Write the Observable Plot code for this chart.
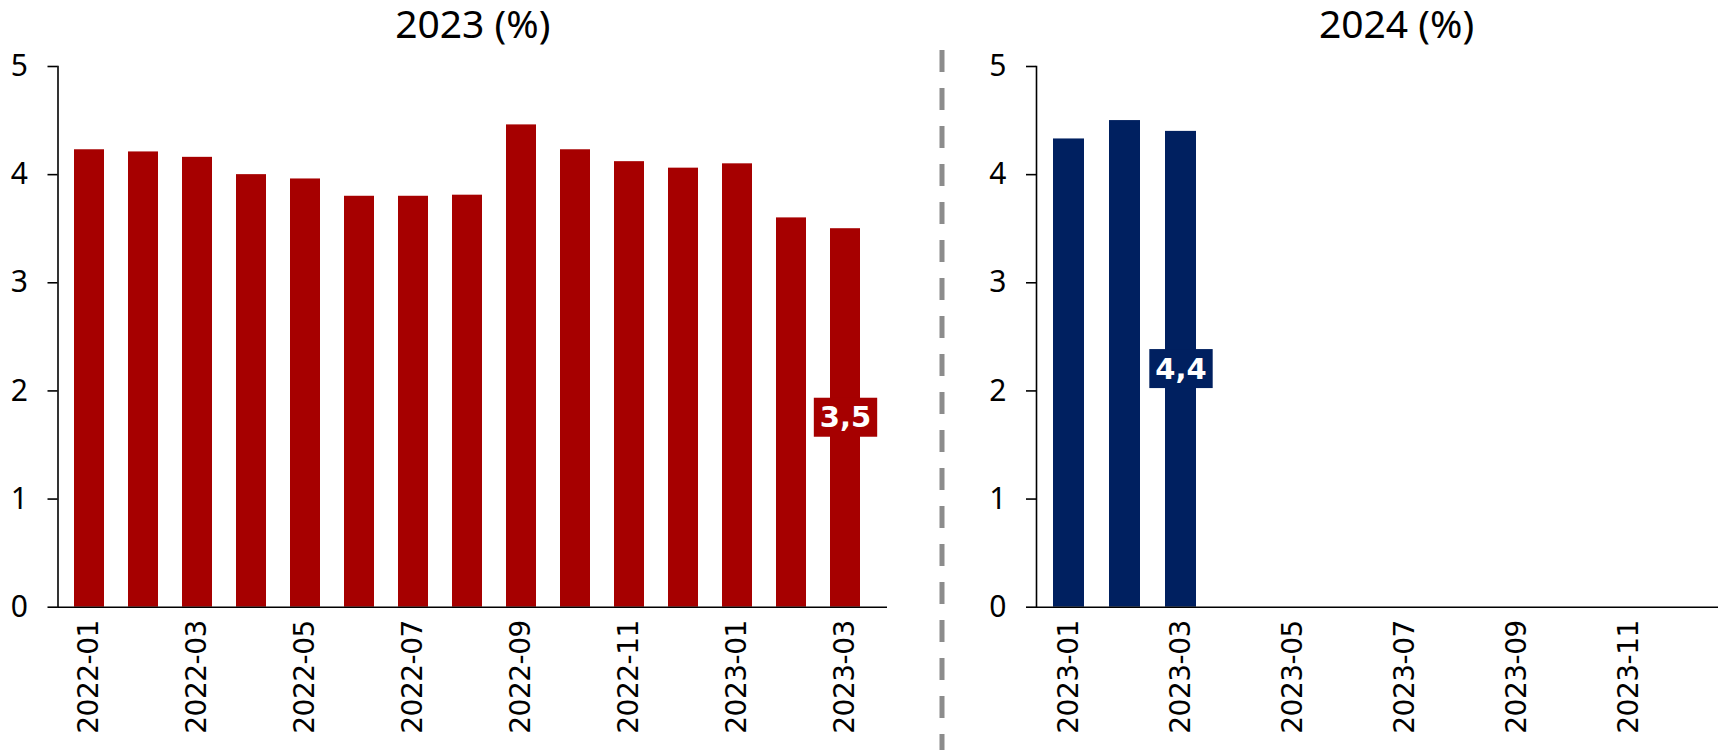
<!DOCTYPE html>
<html><head><meta charset="utf-8">
<script src="https://cdn.jsdelivr.net/npm/d3@7"></script>
<script src="https://cdn.jsdelivr.net/npm/@observablehq/plot@0.6"></script>
<style>
html,body{margin:0;padding:0;background:#fff;}
#wrap{position:relative;width:1718px;height:750px;overflow:hidden;background:#fff;}
#left{position:absolute;left:0;top:0;}
#right{position:absolute;left:900px;top:0;}
#sep{position:absolute;left:0;top:0;pointer-events:none;}
g[aria-label="x-axis tick label"] text{letter-spacing:-0.5px;}
</style></head><body>
<div id="wrap"><div id="left"></div><div id="right"></div>
<svg id="sep" width="1718" height="750"><line x1="942" x2="942" y1="50" y2="750" stroke="#8c8c8c" stroke-width="5" stroke-dasharray="22 16"/></svg>
</div>
<script>
// ---- data ----
const titles = ["2023 (%)", "2024 (%)"];
const months2023 = ["2022-01","2022-02","2022-03","2022-04","2022-05","2022-06","2022-07","2022-08","2022-09","2022-10","2022-11","2022-12","2023-01","2023-02","2023-03"];
const values2023 = [4.23,4.21,4.16,4.00,3.96,3.80,3.80,3.81,4.46,4.23,4.12,4.06,4.10,3.60,3.50];
const months2024 = ["2023-01","2023-02","2023-03","2023-04","2023-05","2023-06","2023-07","2023-08","2023-09","2023-10","2023-11","2023-12"];
const values2024 = [4.33,4.50,4.40];
const yTicks = [0,1,2,3,4,5];
const colors = ["#A60000", "#002060"];

function panel({months, values, color, title, width, marginLeft, marginRight, insetRight, titleDx}) {
  const data = values.map((v, i) => ({month: months[i], value: v}));
  const last = data[data.length - 1];
  return Plot.plot({
    width, height: 750,
    marginTop: 66, marginBottom: 143.3, marginLeft, marginRight,
    style: {background: "white", color: "black", fontFamily: "'DejaVu Sans'"},
    x: {domain: months, paddingInner: 0.442, paddingOuter: 0.221, insetRight, label: null},
    y: {domain: [0, 5], label: null},
    marks: [
      Plot.barY(data, {x: "month", y: "value", fill: color}),
      Plot.ruleY([0], {stroke: "#000", strokeWidth: 1.6}),
      Plot.frame({anchor: "left", stroke: "#000", strokeWidth: 1.6}),
      Plot.axisY({ticks: yTicks, tickFormat: d => String(d), tickSize: 10, tickPadding: 20, fontSize: 30, fontFamily: "Noto Sans", label: null, strokeWidth: 1.6}),
      Plot.axisX({ticks: months.filter((m, i) => i % 2 === 0), tickSize: 0, tickPadding: 13, tickRotate: -90, fontSize: 28, fontFamily: "DejaVu Sans", label: null}),
      Plot.text([last], {x: "month", y: d => d.value / 2, text: d => d.value.toFixed(1).replace(".", ","), fill: "white", fontWeight: "bold", fontSize: 29, fontFamily: "DejaVu Sans"}),
      Plot.text([title], {frameAnchor: "top", lineAnchor: "middle", dy: -41, dx: titleDx, fontSize: 39, fontFamily: "Noto Sans", fill: "black"})
    ]
  });
}

const left = panel({months: months2023, values: values2023, color: colors[0], title: titles[0], width: 900, marginLeft: 57.5, marginRight: 13, insetRight: 10, titleDx: 0});
const right = panel({months: months2024, values: values2024, color: colors[1], title: titles[1], width: 818, marginLeft: 136, marginRight: 0, insetRight: 0, titleDx: 19});
document.getElementById("left").appendChild(left);
document.getElementById("right").appendChild(right);

// label boxes behind value labels, sized from the rendered text
[[left, colors[0]], [right, colors[1]]].forEach(([svg, color]) => {
  const sr = svg.getBoundingClientRect();
  svg.querySelectorAll('g[fill="white"] text').forEach(t => {
    const b = t.getBoundingClientRect();
    const g = t.parentNode;
    const h = 39, padX = 6;
    const cy = b.top - sr.top + b.height / 2;
    const rect = document.createElementNS("http://www.w3.org/2000/svg", "rect");
    rect.setAttribute("x", b.left - sr.left - padX);
    rect.setAttribute("width", b.width + 2 * padX);
    rect.setAttribute("y", cy - h / 2);
    rect.setAttribute("height", h);
    rect.setAttribute("fill", color);
    g.parentNode.insertBefore(rect, g);
  });
});
</script>
</body></html>
